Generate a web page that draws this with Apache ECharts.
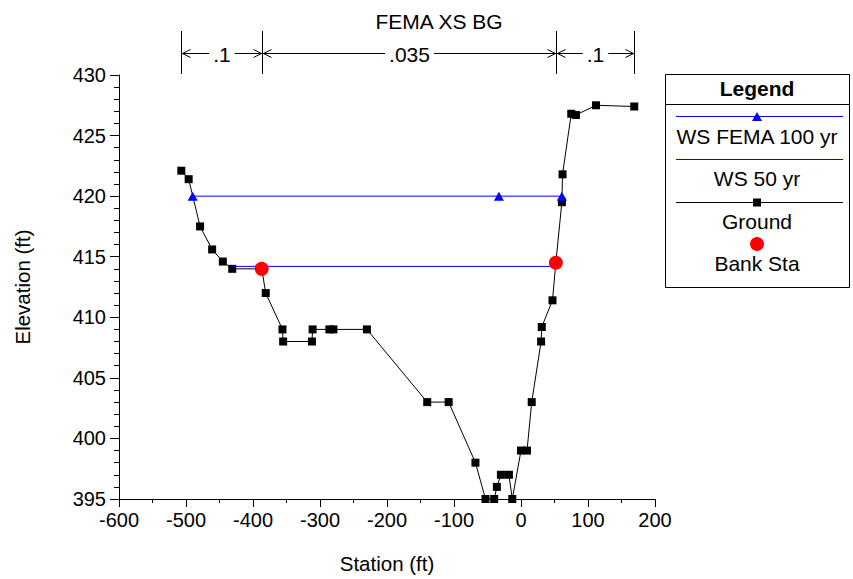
<!DOCTYPE html>
<html><head><meta charset="utf-8">
<script src="https://cdn.jsdelivr.net/npm/echarts@6/dist/echarts.min.js"></script>
<style>html,body{margin:0;padding:0;background:#fff}#c{width:853px;height:579px}</style>
</head><body><div id="c"></div>
<script>
const chartTitle = 'FEMA XS BG';
const xAxisName = 'Station (ft)';
const yAxisName = 'Elevation (ft)';
const groundStation = [-507, -496, -479, -461, -445, -431, -387, -381, -356, -355, -312, -311, -286, -280, -230, -140, -108, -68, -53, -40, -36, -30, -18, -13, 0, 9, 16, 30, 31, 47, 52, 61, 62, 75, 82, 112, 169];
const groundElev    = [422.1, 421.4, 417.5, 415.6, 414.6, 414.0, 414.0, 412.0, 409.0, 408.0, 408.0, 409.0, 409.0, 409.0, 409.0, 403.0, 403.0, 398.0, 395.0, 395.0, 396.0, 397.0, 397.0, 395.0, 399.0, 399.0, 403.0, 408.0, 409.2, 411.4, 414.5, 419.5, 421.8, 426.8, 426.7, 427.5, 427.4];
const ws100Station = [-490, -33, 61];
const ws100Elev    = [420.0, 420.0, 420.0];
const ws50Station  = [-431, 52];
const ws50Elev     = [414.2, 414.2];
const bankStation  = [-387, 52];
const bankElev     = [414.0, 414.5];
const nBreaks = [-507, -387, 52, 169];
const nValues = ['.1', '.035', '.1'];
const legendNames = ['WS FEMA 100 yr', 'WS 50 yr', 'Ground', 'Bank Sta'];
const xMin = -600, xMax = 200, xStep = 100;
const yMin = 395, yMax = 430, yStep = 5;

const FONT = 'Liberation Sans, Arial, sans-serif';
const zip = (a, b) => a.map((v, i) => [v, b[i]]);

const chart = echarts.init(document.getElementById('c'), null, {renderer: 'svg'});

const LX = 665, LY = 74, LW = 184, LH = 213, LC = LX + LW / 2;
const legendGraphic = [
  {type: 'rect', shape: {x: LX + 0.5, y: LY + 0.5, width: LW, height: LH}, style: {fill: '#fff', stroke: '#000', lineWidth: 1}},
  {type: 'line', shape: {x1: LX, y1: LY + 30.5, x2: LX + LW, y2: LY + 30.5}, style: {stroke: '#000', lineWidth: 1}},
  {type: 'text', style: {text: 'Legend', x: LC, y: LY + 14, align: 'center', verticalAlign: 'middle', font: 'bold 21px ' + FONT, fill: '#000'}},
  {type: 'line', shape: {x1: 676, y1: 116.5, x2: 843, y2: 116.5}, style: {stroke: '#0000ff', lineWidth: 1}},
  {type: 'polygon', shape: {points: [[LC - 5, 121], [LC + 5, 121], [LC, 112]]}, style: {fill: '#0000ff'}},
  {type: 'text', style: {text: legendNames[0], x: LC, y: 136, align: 'center', verticalAlign: 'middle', font: '21px ' + FONT, fill: '#000'}},
  {type: 'line', shape: {x1: 676, y1: 159.5, x2: 843, y2: 159.5}, style: {stroke: '#0000ff', lineWidth: 1}},
  {type: 'text', style: {text: legendNames[1], x: LC, y: 178, align: 'center', verticalAlign: 'middle', font: '21px ' + FONT, fill: '#000'}},
  {type: 'line', shape: {x1: 676, y1: 202.5, x2: 843, y2: 202.5}, style: {stroke: '#000', lineWidth: 1}},
  {type: 'rect', shape: {x: LC - 4, y: 198.5, width: 8, height: 8}, style: {fill: '#000'}},
  {type: 'text', style: {text: legendNames[2], x: LC, y: 221, align: 'center', verticalAlign: 'middle', font: '21px ' + FONT, fill: '#000'}},
  {type: 'circle', shape: {cx: LC, cy: 244, r: 7}, style: {fill: '#ff0000'}},
  {type: 'text', style: {text: legendNames[3], x: LC, y: 263, align: 'center', verticalAlign: 'middle', font: '21px ' + FONT, fill: '#000'}}
];

const option = {
  animation: false,
  backgroundColor: '#fff',
  textStyle: {fontFamily: FONT},
  title: {text: chartTitle, left: 434, top: 6, textAlign: 'center',
    textStyle: {fontFamily: FONT, fontSize: 21, fontWeight: 'normal', color: '#000'}},
  grid: {left: 119, top: 75, right: 198, bottom: 80, containLabel: false},
  xAxis: {
    type: 'value', min: xMin, max: xMax, interval: xStep,
    name: xAxisName, nameLocation: 'middle', nameGap: 54,
    nameTextStyle: {fontFamily: FONT, fontSize: 20.5, color: '#000'},
    axisLine: {onZero: false, lineStyle: {color: '#000', width: 1}},
    axisTick: {show: true, inside: false, length: 8, lineStyle: {color: '#000'}},
    minorTick: {show: true, splitNumber: 2, length: 4, lineStyle: {color: '#000'}},
    axisLabel: {fontFamily: FONT, fontSize: 20, color: '#000', margin: 11},
    splitLine: {show: false}
  },
  yAxis: {
    type: 'value', min: yMin, max: yMax, interval: yStep,
    name: yAxisName, nameLocation: 'middle', nameGap: 86, nameRotate: 90,
    nameTextStyle: {fontFamily: FONT, fontSize: 20.5, color: '#000'},
    axisLine: {show: true, onZero: false, lineStyle: {color: '#000', width: 1}},
    axisTick: {show: true, inside: false, length: 9, lineStyle: {color: '#000'}},
    minorTick: {show: true, splitNumber: 5, length: 5, lineStyle: {color: '#000'}},
    axisLabel: {fontFamily: FONT, fontSize: 20, color: '#000', margin: 13},
    splitLine: {show: false}
  },
  graphic: legendGraphic,
  series: [
    {
      name: 'n values', type: 'custom', silent: true, clip: false,
      data: nValues.map((v, i) => [nBreaks[i], nBreaks[i + 1]]),
      encode: {x: [0, 1]},
      renderItem: function (params, api) {
        const x1 = Math.round(api.coord([api.value(0), yMin])[0]) + 0.5;
        const x2 = Math.round(api.coord([api.value(1), yMin])[0]) + 0.5;
        const top = params.coordSys.y;
        const yA = top - 21.5, y0 = top - 44, y1 = top - 1;
        const st = {stroke: '#000', lineWidth: 1, fill: null};
        return {
          type: 'group',
          children: [
            {type: 'line', shape: {x1: x1, y1: y0, x2: x1, y2: y1}, style: st},
            {type: 'line', shape: {x1: x2, y1: y0, x2: x2, y2: y1}, style: st},
            {type: 'line', shape: {x1: x1, y1: yA, x2: x2, y2: yA}, style: st},
            {type: 'polyline', shape: {points: [[x1 + 9, yA - 4], [x1 + 1, yA], [x1 + 9, yA + 4]]}, style: st},
            {type: 'polyline', shape: {points: [[x2 - 9, yA - 4], [x2 - 1, yA], [x2 - 9, yA + 4]]}, style: st},
            {type: 'text', style: {text: nValues[params.dataIndex], x: (x1 + x2) / 2, y: yA + 1,
              align: 'center', verticalAlign: 'middle', font: '21px ' + FONT, fill: '#000',
              backgroundColor: '#fff', padding: [0, 4]}}
          ]
        };
      }
    },
    {
      name: legendNames[2], type: 'line', data: zip(groundStation, groundElev),
      symbol: 'rect', symbolSize: 8, showAllSymbol: true,
      lineStyle: {color: '#000', width: 1}, itemStyle: {color: '#000'}, z: 2
    },
    {
      name: legendNames[1], type: 'line', data: zip(ws50Station, ws50Elev),
      symbol: 'none', lineStyle: {color: '#0000ff', width: 1}, z: 3
    },
    {
      name: legendNames[0], type: 'line', data: zip(ws100Station, ws100Elev),
      symbol: 'triangle', symbolSize: [10, 9], showAllSymbol: true,
      lineStyle: {color: '#0000ff', width: 1}, itemStyle: {color: '#0000ff'}, z: 3
    },
    {
      name: legendNames[3], type: 'scatter', data: zip(bankStation, bankElev),
      symbol: 'circle', symbolSize: 14, itemStyle: {color: '#ff0000', opacity: 1}, z: 4
    }
  ]
};
chart.setOption(option);
</script>
</body></html>
